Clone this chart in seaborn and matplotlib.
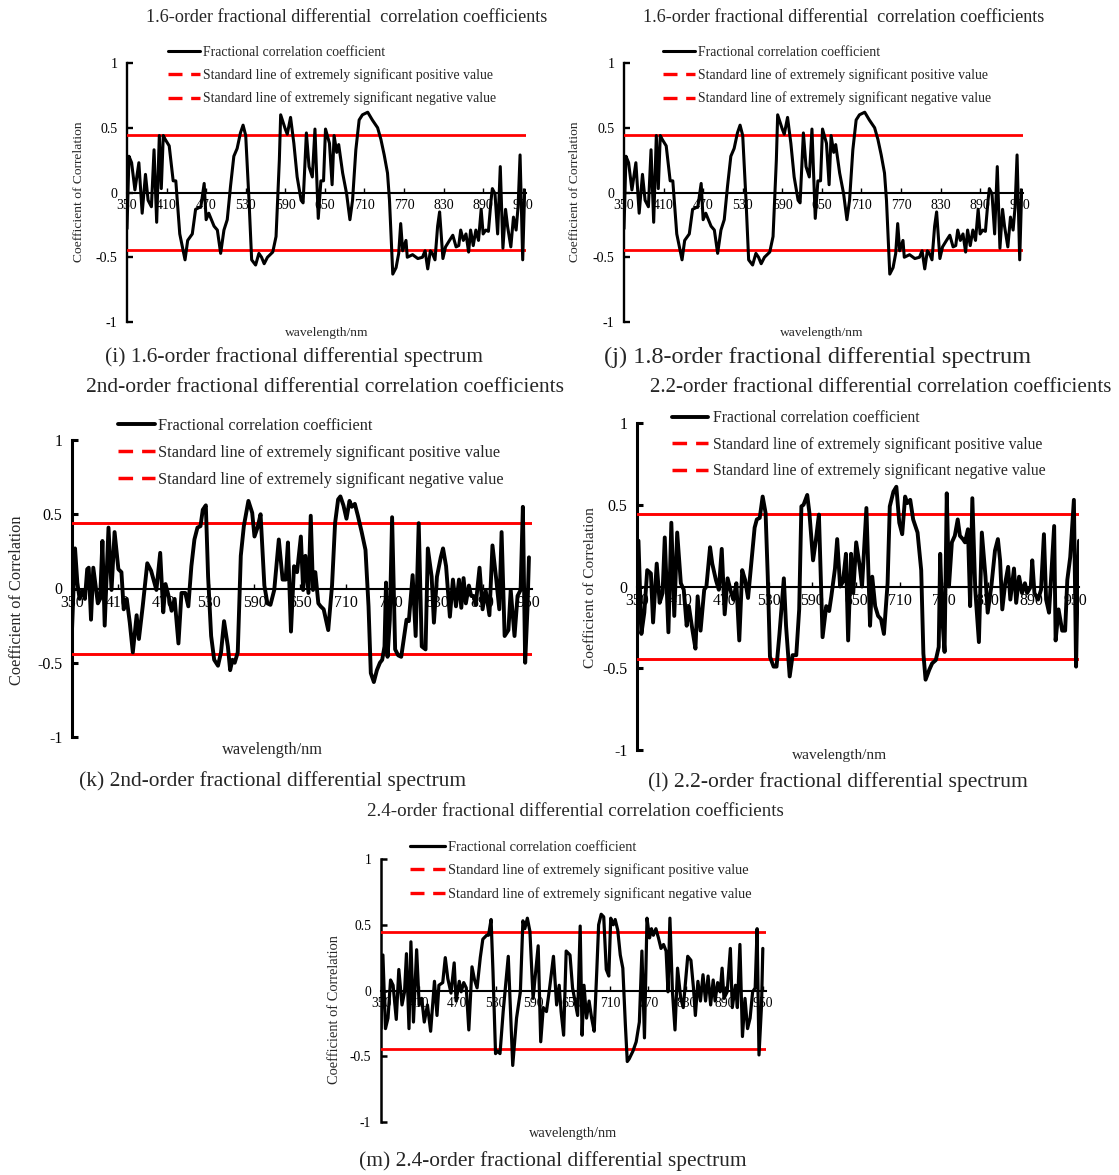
import matplotlib
matplotlib.use("Agg")
import matplotlib.pyplot as plt
from matplotlib.lines import Line2D
import seaborn as sns

# ---------------------------------------------------------------- data
# correlation coefficient vs wavelength (nm) for each fractional order
wl_16 = [350, 353, 357, 362, 368, 373, 378, 382, 387, 391,
         395, 399, 402, 405, 408, 414, 420, 424, 430, 434,
         438, 442, 449, 454, 462, 467, 470, 474, 482, 487,
         492, 497, 502, 507, 512, 517, 522, 526, 530, 535,
         539, 545, 550, 554, 558, 563, 571, 576, 581, 583,
         590, 593, 598, 603, 608, 614, 617, 622, 626, 631,
         635, 640, 644, 648, 651, 657, 661, 664, 668, 671,
         677, 683, 688, 692, 697, 702, 707, 715, 722, 730,
         735, 740, 745, 748, 753, 758, 762, 765, 768, 773,
         775, 783, 791, 798, 802, 806, 810, 813, 817, 821,
         824, 829, 833, 839, 844, 849, 853, 856, 860, 864,
         868, 871, 875, 879, 883, 887, 890, 894, 898, 902,
         904, 908, 912, 916, 920, 924, 927, 932, 936, 940,
         943, 946, 950, 953]
r_16 = [-0.28, 0.28, 0.23, 0.02, 0.23, -0.16, 0.14, -0.06, -0.11, 0.33,
        -0.23, 0.44, 0.03, 0.44, 0.41, 0.36, 0.09, 0.09, -0.32, -0.42,
        -0.52, -0.37, -0.32, -0.13, -0.11, 0.07, -0.21, -0.16, -0.26, -0.29,
        -0.47, -0.29, -0.21, 0.05, 0.28, 0.34, 0.46, 0.52, 0.44, -0.06,
        -0.52, -0.56, -0.47, -0.50, -0.55, -0.50, -0.46, -0.34, 0.25, 0.60,
        0.49, 0.45, 0.58, 0.38, 0.12, -0.06, -0.08, 0.46, 0.20, 0.12,
        0.49, -0.20, 0.09, 0.09, 0.49, 0.38, 0.06, 0.44, 0.31, 0.37,
        0.15, -0.01, -0.21, -0.06, 0.33, 0.56, 0.60, 0.62, 0.56, 0.50,
        0.41, 0.29, 0.15, -0.06, -0.63, -0.58, -0.47, -0.24, -0.45, -0.37,
        -0.50, -0.48, -0.51, -0.50, -0.45, -0.59, -0.45, -0.47, -0.52, -0.26,
        -0.15, -0.51, -0.42, -0.37, -0.33, -0.42, -0.41, -0.29, -0.37, -0.32,
        -0.46, -0.29, -0.41, -0.29, -0.37, -0.13, -0.32, -0.29, -0.30, -0.06,
        0.03, -0.01, -0.32, 0.20, -0.43, -0.13, -0.26, -0.42, -0.19, -0.29,
        -0.11, 0.29, -0.52, 0.02]

# the 1.8-order curve coincides with the 1.6-order one
wl_18 = list(wl_16)
r_18 = list(r_16)

wl_20 = [350, 354, 357, 360, 364, 367, 370, 372, 375, 378,
         384, 387, 390, 393, 398, 402, 406, 411, 415, 418,
         422, 426, 430, 435, 438, 443, 449, 454, 461, 466,
         470, 473, 477, 481, 485, 490, 494, 499, 503, 507,
         511, 515, 519, 522, 526, 529, 533, 537, 542, 546,
         550, 555, 558, 561, 564, 568, 572, 576, 582, 587,
         590, 594, 598, 603, 607, 611, 616, 622, 627, 631,
         634, 638, 642, 646, 651, 654, 657, 661, 664, 667,
         670, 674, 677, 681, 687, 692, 696, 700, 703, 707,
         711, 715, 718, 722, 726, 731, 736, 740, 743, 747,
         751, 755, 758, 761, 763, 765, 768, 771, 775, 779,
         783, 787, 790, 793, 798, 802, 806, 810, 815, 818,
         823, 826, 830, 835, 838, 842, 847, 851, 855, 859,
         862, 865, 868, 872, 875, 878, 881, 886, 890, 894,
         899, 903, 908, 912, 915, 919, 924, 927, 932, 936,
         940, 943, 946, 949, 951]
r_20 = [-0.28, 0.27, 0.04, -0.07, -0.01, -0.07, 0.13, 0.14, -0.21, 0.14,
        -0.10, -0.07, 0.32, -0.25, 0.41, -0.01, 0.38, 0.13, 0.11, -0.14,
        -0.07, -0.23, -0.43, -0.18, -0.34, -0.12, 0.17, 0.12, -0.01, 0.24,
        -0.16, 0.03, -0.05, -0.15, -0.07, -0.37, -0.03, -0.03, -0.12, 0.15,
        0.33, 0.41, 0.42, 0.53, 0.56, 0.08, -0.32, -0.48, -0.52, -0.43,
        -0.22, -0.39, -0.55, -0.48, -0.50, -0.43, 0.22, 0.42, 0.59, 0.51,
        0.35, 0.41, 0.50, 0.02, -0.10, -0.11, -0.01, 0.33, 0.06, 0.06,
        0.31, -0.29, 0.15, 0.11, 0.35, -0.01, 0.22, -0.03, 0.49, -0.01,
        0.11, -0.10, -0.12, -0.14, -0.28, 0.02, 0.44, 0.60, 0.62, 0.56,
        0.47, 0.59, 0.55, 0.57, 0.49, 0.38, 0.26, -0.12, -0.57, -0.63,
        -0.55, -0.50, -0.48, -0.39, 0.04, -0.46, -0.21, 0.48, -0.41, -0.45,
        -0.46, -0.32, -0.21, -0.22, 0.09, -0.32, 0.44, -0.39, -0.41, 0.27,
        0.08, -0.23, 0.08, 0.21, 0.27, 0.15, -0.19, 0.06, -0.12, 0.06,
        -0.13, 0.07, -0.10, 0.02, -0.05, -0.05, -0.11, 0.14, -0.14, -0.01,
        -0.18, 0.29, 0.06, -0.14, 0.38, -0.32, -0.28, -0.01, -0.32, -0.05,
        -0.01, 0.55, -0.50, -0.14, 0.21]

wl_22 = [350, 352, 356, 360, 364, 369, 372, 377, 381, 385,
         388, 393, 397, 401, 405, 410, 414, 418, 421, 426,
         430, 433, 437, 442, 445, 450, 453, 458, 462, 466,
         470, 474, 479, 482, 486, 490, 494, 498, 502, 508,
         511, 514, 518, 522, 526, 529, 532, 537, 541, 545,
         551, 554, 559, 563, 568, 572, 575, 578, 583, 586,
         591, 595, 599, 604, 609, 613, 616, 621, 624, 628,
         632, 636, 639, 643, 646, 650, 655, 658, 664, 669,
         672, 676, 680, 684, 688, 693, 696, 701, 705, 709,
         713, 717, 720, 724, 728, 734, 739, 742, 745, 750,
         754, 759, 763, 765, 768, 771, 774, 777, 781, 785,
         789, 792, 796, 799, 803, 806, 809, 813, 818, 822,
         827, 830, 835, 840, 844, 847, 850, 854, 858, 861,
         866, 869, 873, 877, 881, 884, 889, 891, 894, 899,
         903, 907, 910, 914, 921, 923, 927, 932, 936, 939,
         943, 948, 951, 953, 955]
r_22 = [-0.29, 0.28, -0.29, -0.16, 0.10, 0.08, -0.22, 0.14, -0.10, -0.04,
        0.30, -0.28, 0.39, -0.18, 0.33, 0.02, -0.02, -0.24, -0.12, -0.27,
        -0.38, -0.06, -0.27, -0.02, 0.00, 0.24, 0.14, 0.04, -0.02, 0.23,
        -0.17, 0.05, -0.04, -0.08, 0.02, -0.33, 0.10, 0.04, -0.07, 0.22,
        0.36, 0.41, 0.42, 0.55, 0.45, 0.06, -0.43, -0.49, -0.49, -0.29,
        0.05, -0.24, -0.55, -0.42, -0.42, -0.14, 0.49, 0.50, 0.56, 0.45,
        0.16, 0.29, 0.44, -0.31, -0.12, -0.15, -0.06, 0.11, 0.29, 0.00,
        0.03, 0.20, -0.33, 0.20, -0.04, 0.27, 0.12, 0.00, 0.48, -0.24,
        0.06, -0.12, -0.18, -0.20, -0.29, 0.02, 0.49, 0.58, 0.61, 0.39,
        0.32, 0.55, 0.51, 0.53, 0.41, 0.33, 0.10, -0.41, -0.57, -0.51,
        -0.47, -0.45, -0.37, 0.20, -0.20, -0.40, 0.57, 0.00, 0.27, 0.31,
        0.41, 0.31, 0.29, 0.27, 0.35, -0.12, 0.54, -0.02, -0.34, 0.33,
        0.06, -0.16, 0.00, 0.22, 0.29, 0.16, -0.14, 0.02, 0.12, -0.08,
        0.11, -0.10, 0.06, -0.04, 0.02, -0.04, 0.00, 0.16, -0.04, -0.08,
        -0.02, 0.32, -0.08, -0.16, 0.37, -0.33, -0.14, -0.27, -0.27, 0.04,
        0.18, 0.53, -0.49, 0.00, 0.28]

wl_24 = [350, 353, 357, 361, 365, 369, 374, 378, 383, 387,
         390, 394, 397, 401, 406, 410, 414, 418, 423, 428,
         434, 438, 441, 447, 451, 455, 460, 465, 468, 473,
         476, 480, 484, 488, 493, 497, 501, 506, 510, 516,
         519, 523, 526, 530, 533, 537, 542, 550, 557, 563,
         569, 573, 576, 580, 584, 589, 597, 601, 605, 610,
         615, 621, 626, 630, 633, 637, 641, 647, 651, 659,
         663, 666, 669, 673, 677, 681, 685, 689, 692, 696,
         700, 704, 708, 711, 715, 718, 722, 726, 730, 734,
         737, 740, 746, 751, 756, 760, 764, 768, 772, 775,
         778, 782, 786, 790, 794, 798, 801, 804, 808, 812,
         816, 821, 825, 829, 832, 837, 841, 844, 848, 852,
         856, 860, 864, 868, 872, 875, 879, 883, 886, 889,
         894, 899, 902, 907, 910, 914, 918, 922, 926, 930,
         934, 938, 941, 944, 948, 950]
r_24 = [-0.29, 0.27, -0.29, -0.21, 0.08, 0.04, -0.22, 0.16, -0.11, -0.01,
        0.28, -0.29, 0.37, -0.24, 0.31, -0.11, -0.06, -0.24, -0.11, -0.31,
        0.07, -0.19, 0.04, 0.06, 0.25, 0.09, -0.02, 0.21, -0.08, 0.07,
        -0.01, 0.06, 0.02, -0.30, 0.18, 0.08, 0.02, 0.25, 0.39, 0.42,
        0.42, 0.54, 0.14, -0.48, -0.46, -0.48, -0.16, 0.26, -0.57, -0.21,
        -0.01, 0.53, 0.47, 0.55, 0.45, -0.06, 0.34, -0.39, -0.13, -0.16,
        0.02, 0.26, -0.11, 0.04, -0.16, -0.34, 0.30, 0.27, 0.02, -0.19,
        0.49, -0.34, 0.04, -0.21, -0.08, -0.21, -0.31, 0.14, 0.50, 0.58,
        0.56, 0.16, 0.11, 0.55, 0.50, 0.54, 0.46, 0.27, 0.17, -0.26,
        -0.54, -0.52, -0.46, -0.39, -0.24, 0.30, -0.36, 0.55, 0.40, 0.47,
        0.42, 0.47, 0.40, 0.32, 0.35, 0.30, -0.01, 0.55, -0.01, -0.30,
        0.17, -0.06, -0.13, 0.09, 0.26, 0.23, 0.02, -0.19, 0.07, -0.08,
        0.12, -0.08, 0.11, -0.11, 0.08, -0.08, 0.06, -0.01, 0.17, -0.06,
        -0.01, 0.32, -0.13, 0.04, -0.13, 0.35, -0.35, -0.06, -0.29, -0.21,
        -0.01, 0.02, 0.47, -0.49, -0.11, 0.32]

# extremely significant thresholds
sig_pos = 0.443
sig_neg = -0.443

x_ticks = [350, 410, 470, 530, 590, 650, 710, 770, 830, 890, 950]
y_ticks = [-1, -0.5, 0, 0.5, 1]
y_tick_labels = ["-1", "-0.5", "0", "0.5", "1"]

titles = {
    "i": "1.6-order fractional differential  correlation coefficients",
    "j": "1.6-order fractional differential  correlation coefficients",
    "k": "2nd-order fractional differential correlation coefficients",
    "l": "2.2-order fractional differential correlation coefficients",
    "m": "2.4-order fractional differential correlation coefficients",
}
captions = {
    "i": "(i) 1.6-order fractional differential spectrum",
    "j": "(j) 1.8-order fractional differential spectrum",
    "k": "(k) 2nd-order fractional differential spectrum",
    "l": "(l) 2.2-order fractional differential spectrum",
    "m": "(m) 2.4-order fractional differential spectrum",
}
legend_labels = ["Fractional correlation coefficient",
                 "Standard line of extremely significant positive value",
                 "Standard line of extremely significant negative value"]
x_label = "wavelength/nm"
y_label = "Coefficient of Correlation"

# ---------------------------------------------------------------- style
sns.set_style("white")
plt.rcParams["font.family"] = ["Liberation Serif", "DejaVu Serif"]
plt.rcParams["axes.unicode_minus"] = False

W, H = 1119, 1175
PX_PER_PT = 100 / 72
RED = "#ff0000"

fig = plt.figure(figsize=(W / 100, H / 100), dpi=100)


def fx(x):
    return x / W


def fy(y):
    return 1 - y / H


# layout of each panel in pixels
layout = {
    "i": dict(box=(127, 526, 63, 322), title=(347, 17, 13.1), cap=(294, 357, 15.5),
              xl=(327, 333), yl=(79, 192), lab_fs=9.7, tick_fs=10,
              leg=(168, 51, 23, 32, 3, 9.9), lw=2.2, red_lw=2.0, spine_lw=1.7),
    "j": dict(box=(624, 1023, 63, 322), title=(844, 17, 13.1), cap=(818, 357, 17.5),
              xl=(822, 333), yl=(575, 192), lab_fs=9.7, tick_fs=10,
              leg=(663, 51, 23, 32, 3, 9.9), lw=2.2, red_lw=2.0, spine_lw=1.7),
    "k": dict(box=(72, 532, 440, 737), title=(325, 387, 15.5), cap=(273, 781, 15.4),
              xl=(272, 750), yl=(17, 600), lab_fs=11.8, tick_fs=11.4,
              leg=(118, 424, 27, 37, 3, 11.7), lw=2.8, red_lw=2.1, spine_lw=2.2),
    "l": dict(box=(637, 1079, 423, 750), title=(881, 387, 15.1), cap=(838, 782, 15.6),
              xl=(840, 756), yl=(590, 588), lab_fs=11.1, tick_fs=11.4,
              leg=(672, 416, 26, 36, 5, 11.3), lw=2.8, red_lw=2.1, spine_lw=2.2),
    "m": dict(box=(381, 766, 859, 1122), title=(575, 811, 13.7), cap=(553, 1161, 15.4),
              xl=(573, 1134), yl=(335, 1010), lab_fs=10.4, tick_fs=9.8,
              leg=(410, 846, 24, 35, 3, 10.4), lw=2.3, red_lw=2.0, spine_lw=1.8),
}

series = {"i": (wl_16, r_16), "j": (wl_18, r_18), "k": (wl_20, r_20),
          "l": (wl_22, r_22), "m": (wl_24, r_24)}

for key, (wl, r) in series.items():
    cfg = layout[key]
    x0, x1, yt, yb = cfg["box"]
    ax = fig.add_axes([fx(x0), fy(yb), (x1 - x0) / W, (yb - yt) / H])
    ax.set_facecolor("none")

    ax.axhline(sig_pos, color=RED, lw=cfg["red_lw"], zorder=2.6)
    ax.axhline(sig_neg, color=RED, lw=cfg["red_lw"], zorder=2.6)
    sns.lineplot(x=wl, y=r, ax=ax, color="black", lw=cfg["lw"], sort=False,
                 estimator=None, legend=False, zorder=3)

    ax.set_xlim(350, 955)
    ax.set_ylim(-1, 1)
    ax.set_xlabel("")
    ax.set_ylabel("")
    ax.set_xticks(x_ticks)
    ax.set_xticklabels([str(t) for t in x_ticks])
    ax.set_yticks(y_ticks)
    ax.set_yticklabels(y_tick_labels)

    for side in ("top", "right"):
        ax.spines[side].set_visible(False)
    ax.spines["bottom"].set_position(("data", 0))
    ax.spines["bottom"].set_color("black")
    ax.spines["bottom"].set_linewidth(1.5)
    ax.spines["left"].set_color("black")
    ax.spines["left"].set_linewidth(cfg["spine_lw"])
    ax.set_axisbelow(True)

    ax.tick_params(axis="x", bottom=True, direction="in", length=3.5, width=1.0,
                   pad=4.5, labelsize=cfg["tick_fs"], colors="black")
    ax.tick_params(axis="y", left=True, direction="in", length=4, width=cfg["spine_lw"],
                   pad=7, labelsize=cfg["tick_fs"], colors="black")

    # legend
    hx, hy, spacing, hlen, hpad, lfs = cfg["leg"]
    fs_px = lfs * PX_PER_PT
    handles = [
        Line2D([], [], color="black", lw=cfg["lw"]),
        Line2D([], [], color=RED, lw=cfg["red_lw"] + 0.4, dashes=(4.2, 2.6)),
        Line2D([], [], color=RED, lw=cfg["red_lw"] + 0.4, dashes=(4.2, 2.6)),
    ]
    ax.legend(handles, legend_labels, loc="upper left",
              bbox_to_anchor=(fx(hx), fy(hy - 0.38 * fs_px)),
              bbox_transform=fig.transFigure, frameon=False, fontsize=lfs,
              borderpad=0, borderaxespad=0, handlelength=hlen / fs_px,
              handletextpad=hpad / fs_px,
              labelspacing=(spacing - 0.98 * fs_px) / fs_px)

    tx, ty, tfs = cfg["title"]
    fig.text(fx(tx), fy(ty), titles[key], ha="center", va="center", fontsize=tfs)
    cx, cy, cfs = cfg["cap"]
    fig.text(fx(cx), fy(cy), captions[key], ha="center", va="center", fontsize=cfs)
    fig.text(fx(cfg["xl"][0]), fy(cfg["xl"][1]), x_label, ha="center", va="center",
             fontsize=cfg["lab_fs"])
    fig.text(fx(cfg["yl"][0]), fy(cfg["yl"][1]), y_label, ha="center", va="center",
             rotation=90, fontsize=cfg["lab_fs"])

fig.savefig("out.png", dpi=100, facecolor="white")
